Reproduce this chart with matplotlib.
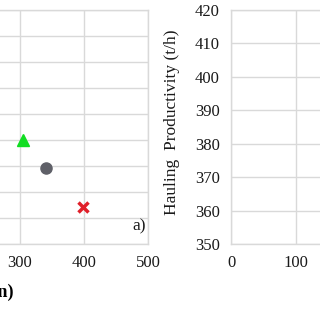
import numpy as np
import matplotlib
matplotlib.use('Agg')
import matplotlib.pyplot as plt

plt.rcParams['font.family'] = ['Liberation Serif', 'DejaVu Serif']

# left panel (a) points
loaders = ['A', 'B', 'C']
dist = [304, 340, 398]
prod_a = [370, 359.2, 344.2]
markers = ['^', 'o', 'x']
colors = ['#11dd22', '#5f6068', '#e0202a']

left_ylim = (330, 420)
right_ylim = (350, 420)
xlim = (0, 500)

grid_c = '#d9d9d9'

fig = plt.figure(figsize=(3.2, 3.2), dpi=100)
W = 320.0

def px_axes(x0, x1, y0, y1):
    return fig.add_axes([x0 / W, 1 - y1 / W, (x1 - x0) / W, (y1 - y0) / W])

ax1 = px_axes(-172, 148, 10, 244)
ax2 = px_axes(231, 556, 10, 244)

for ax in (ax1, ax2):
    ax.set_xlim(*xlim)
    ax.set_xticks(np.arange(0, 501, 100))
    ax.grid(True, color=grid_c, linewidth=1)
    ax.set_axisbelow(True)
    for s in ax.spines.values():
        s.set_color(grid_c)
        s.set_linewidth(1)
    ax.tick_params(length=0, labelsize=12, pad=8, colors='#1a1a1a')

ax1.set_ylim(*left_ylim)
ax1.set_yticks(np.arange(left_ylim[0], left_ylim[1] + 1, 10))
for i in range(len(loaders)):
    if markers[i] == 'x':
        ax1.plot(dist[i], prod_a[i], marker='x', color=colors[i], ms=7, mew=2.5, ls='none')
    else:
        ax1.plot(dist[i], prod_a[i], marker=markers[i], color=colors[i], ms=8, ls='none')
ax1.text((146 + 172) / 320.0, (244 - 226) / 234.0, 'a)', transform=ax1.transAxes,
         ha='right', va='center', fontsize=12.5, color='#1a1a1a')
ax1.set_xlabel('Cycle Time (min)', fontsize=13, fontweight='bold')
ax1.xaxis.set_label_coords((13 + 172) / 320.0, -(292 - 244) / 234.0)
ax1.xaxis.label.set_ha('right')
ax1.xaxis.label.set_va('center')

ax2.set_ylim(*right_ylim)
ax2.set_yticks(np.arange(right_ylim[0], right_ylim[1] + 1, 10))
ax2.set_ylabel('Hauling  Productivity (t/h)', fontsize=12.5, color='#1a1a1a')
ax2.yaxis.set_label_coords(-(231 - 180) / 325.0, 0.52)

fig.savefig('out.png', dpi=100)
